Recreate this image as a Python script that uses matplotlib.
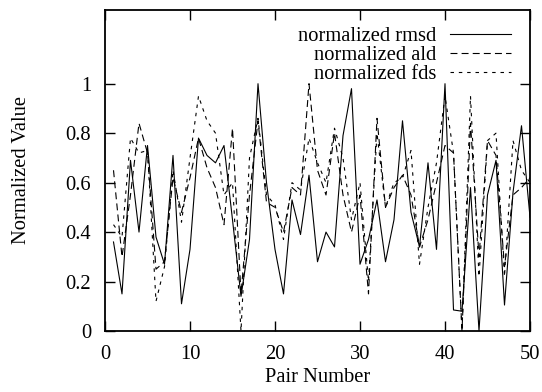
#!/usr/bin/env python3

import matplotlib
matplotlib.use('Agg')
import matplotlib.pyplot as plt

pairs = list(range(1, 51))

rmsd = [0.36, 0.15, 0.69, 0.40, 0.75, 0.38, 0.27, 0.71, 0.11, 0.33,
        0.78, 0.71, 0.68, 0.75, 0.45, 0.14, 0.37, 1.00, 0.60, 0.33,
        0.15, 0.53, 0.39, 0.63, 0.28, 0.40, 0.34, 0.79, 0.98, 0.27,
        0.37, 0.53, 0.28, 0.45, 0.85, 0.48, 0.34, 0.68, 0.33, 1.00,
        0.085, 0.08, 0.58, 0.00, 0.55, 0.69, 0.105, 0.56, 0.83, 0.46]

ald = [0.65, 0.30, 0.55, 0.84, 0.72, 0.25, 0.28, 0.62, 0.48, 0.62,
       0.78, 0.66, 0.58, 0.43, 0.82, 0.15, 0.55, 0.85, 0.52, 0.50,
       0.40, 0.58, 0.55, 1.00, 0.65, 0.55, 0.80, 0.55, 0.40, 0.55,
       0.15, 0.86, 0.50, 0.58, 0.63, 0.55, 0.34, 0.45, 0.60, 0.75,
       0.72, 0.00, 0.84, 0.30, 0.77, 0.71, 0.26, 0.55, 0.58, 0.62]

fds = [0.43, 0.38, 0.78, 0.72, 0.73, 0.12, 0.26, 0.65, 0.44, 0.70,
       0.95, 0.85, 0.80, 0.55, 0.60, 0.00, 0.70, 0.86, 0.55, 0.51,
       0.37, 0.60, 0.57, 0.78, 0.68, 0.60, 0.82, 0.70, 0.45, 0.60,
       0.20, 0.80, 0.50, 0.60, 0.62, 0.73, 0.27, 0.50, 0.68, 0.95,
       0.72, 0.00, 0.95, 0.22, 0.77, 0.80, 0.22, 0.77, 0.65, 0.60]

xticks = [0, 10, 20, 30, 40, 50]
yticks = [0, 0.2, 0.4, 0.6, 0.8, 1]
ytick_labels = ['0', '0.2', '0.4', '0.6', '0.8', '1']

plt.rcParams['font.family'] = ['Liberation Serif', 'DejaVu Serif']
plt.rcParams['font.size'] = 14.8
plt.rcParams['lines.scale_dashes'] = False

fig = plt.figure(figsize=(5.42, 3.92), dpi=100)
ax = fig.add_axes([105 / 542, 1 - 331 / 392, 425 / 542, (331 - 9.5) / 392])

ax.plot(pairs, rmsd, color='black', linewidth=0.8, label='normalized rmsd')
ax.plot(pairs, ald, color='black', linewidth=0.8, dashes=(5, 3), label='normalized ald')
ax.plot(pairs, fds, color='black', linewidth=0.8, dashes=(2.5, 3.5), label='normalized fds')

ax.set_xlim(0, 50)
ax.set_ylim(0, 1.3)
ax.set_xticks(xticks)
ax.set_yticks(yticks)
ax.set_yticklabels(ytick_labels)
ax.tick_params(direction='in', length=7, width=1, top=True, right=True)
ax.tick_params(axis='x', pad=10)
ax.tick_params(axis='y', pad=10)
for s in ax.spines.values():
    s.set_linewidth(1.3)

ax.set_xlabel('Pair Number', labelpad=3)
ax.set_ylabel('Normalized Value', labelpad=25)

ax.legend(loc='upper right', frameon=False, markerfirst=False, handlelength=3,
          handletextpad=0.65, labelspacing=-0.03, borderaxespad=0.3,
          bbox_to_anchor=(0.99, 0.99))

fig.savefig('out.png', dpi=100)
